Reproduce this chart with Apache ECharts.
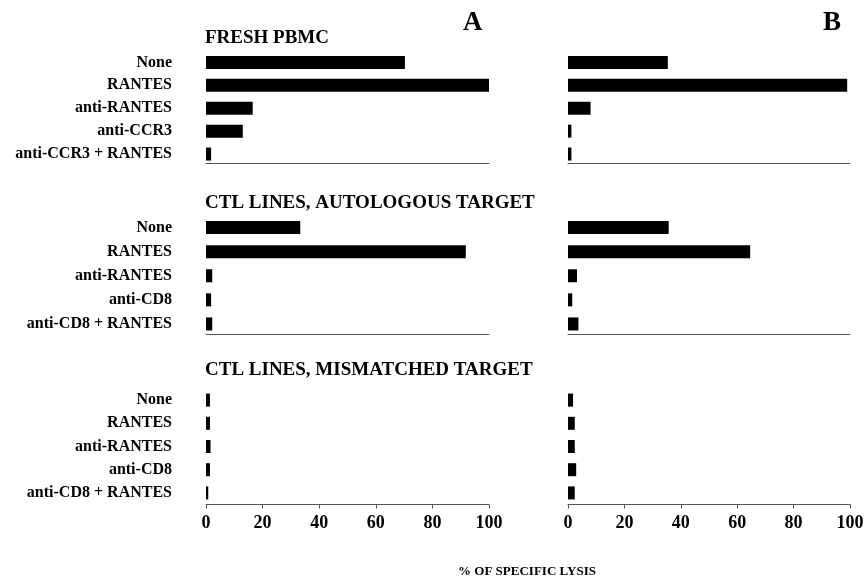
<!DOCTYPE html>
<html><head><meta charset="utf-8">
<script src="https://cdn.jsdelivr.net/npm/echarts@6/dist/echarts.min.js"></script>
<style>html,body{margin:0;padding:0;background:#fff}#c{width:867px;height:578px}</style>
</head><body><div id="c"></div>
<script>
// ---- data ----
const freshCategories = ['None', 'RANTES', 'anti-RANTES', 'anti-CCR3', 'anti-CCR3 + RANTES'];
const ctlCategories = ['None', 'RANTES', 'anti-RANTES', 'anti-CD8', 'anti-CD8 + RANTES'];
const panelTitles = ['FRESH PBMC', 'CTL LINES, AUTOLOGOUS TARGET', 'CTL LINES, MISMATCHED TARGET'];
const panelLetters = ['A', 'B'];
const freshA = [70.3, 100, 16.5, 13, 1.8];
const freshB = [35.4, 99, 8, 1.2, 1.2];
const autoA = [33.3, 91.8, 2.2, 1.8, 2.2];
const autoB = [35.7, 64.6, 3.2, 1.5, 3.7];
const mismatchA = [1.4, 1.4, 1.6, 1.4, 0.8];
const mismatchB = [1.8, 2.4, 2.4, 2.9, 2.4];
const xTickValues = [0, 20, 40, 60, 80, 100];
const xAxisTitle = '% OF SPECIFIC LYSIS';

// ---- layout ----
const FONT = '"Liberation Serif", "Times New Roman", serif';
const rows = [
  {top: 51, height: 114.5, offset: -2, cats: freshCategories, vals: [freshA, freshB], titleY: 38},
  {top: 215.5, height: 120.5, offset: -2, cats: ctlCategories, vals: [autoA, autoB], titleY: 203},
  {top: 388.5, height: 116, offset: 0, cats: ctlCategories, vals: [mismatchA, mismatchB], titleY: 370}
];
const cols = [{left: 206, width: 283}, {left: 568, width: 282}];

const grid = [], xAxis = [], yAxis = [], series = [];
rows.forEach((r, ri) => {
  cols.forEach((c, ci) => {
    const idx = grid.length;
    const isBottom = ri === rows.length - 1;
    grid.push({left: c.left, width: c.width, top: r.top, height: r.height, containLabel: false});
    xAxis.push({
      type: 'value', gridIndex: idx, min: xTickValues[0], max: xTickValues[xTickValues.length - 1],
      interval: xTickValues[1] - xTickValues[0], offset: r.offset,
      axisLine: {show: true, lineStyle: {color: '#555', width: 1}},
      axisTick: {show: isBottom, length: 4, lineStyle: {color: '#555'}},
      splitLine: {show: false},
      axisLabel: {show: isBottom, margin: 10, color: '#000', fontFamily: FONT, fontWeight: 'bold', fontSize: 18}
    });
    yAxis.push({
      type: 'category', gridIndex: idx, data: r.cats, inverse: true,
      axisLine: {show: false}, axisTick: {show: false}, splitLine: {show: false},
      axisLabel: {show: ci === 0, margin: 34, color: '#000', fontFamily: FONT, fontWeight: 'bold', fontSize: 16}
    });
    series.push({
      type: 'bar', xAxisIndex: idx, yAxisIndex: idx, data: r.vals[ci],
      barWidth: 13, itemStyle: {color: '#000'}, silent: true
    });
  });
});

const graphic = [];
rows.forEach((r, ri) => {
  graphic.push({type: 'text', x: 205, y: r.titleY, style: {text: panelTitles[ri], fontFamily: FONT, fontWeight: 'bold', fontSize: 19, fill: '#000', align: 'left', verticalAlign: 'middle'}});
});
graphic.push({type: 'text', x: 463, y: 23, style: {text: panelLetters[0], fontFamily: FONT, fontWeight: 'bold', fontSize: 27, fill: '#000', align: 'left', verticalAlign: 'middle'}});
graphic.push({type: 'text', x: 823, y: 23, style: {text: panelLetters[1], fontFamily: FONT, fontWeight: 'bold', fontSize: 27, fill: '#000', align: 'left', verticalAlign: 'middle'}});
graphic.push({type: 'text', x: 527, y: 572, style: {text: xAxisTitle, fontFamily: FONT, fontWeight: 'bold', fontSize: 13, fill: '#000', align: 'center', verticalAlign: 'middle'}});

const chart = echarts.init(document.getElementById('c'), null, {renderer: 'canvas'});
chart.setOption({animation: false, backgroundColor: '#fff', grid, xAxis, yAxis, series, graphic});
</script>
</body></html>
